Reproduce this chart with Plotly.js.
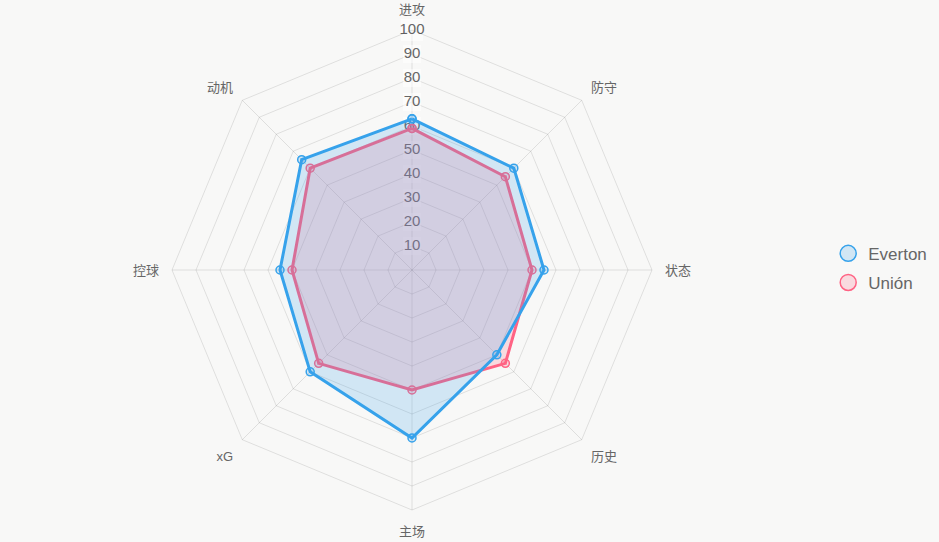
<!DOCTYPE html>
<html>
<head>
<meta charset="utf-8">
<script src="https://cdn.plot.ly/plotly-3.0.1.min.js"></script>
<style>
  html, body { margin: 0; padding: 0; background: rgb(248,248,247); }
  #chart { width: 939px; height: 542px; }
</style>
</head>
<body>
<div id="chart"></div>
<script>
// Radar comparison of two teams across eight attributes (0-100 scale)
const categories = ['进攻', '防守', '状态', '历史', '主场', 'xG', '控球', '动机'];
const evertonValues = [63, 60, 55, 50, 70, 60, 55, 65];
const unionValues = [59, 55, 50, 55, 50, 55, 50, 60];
const radialTicks = [10, 20, 30, 40, 50, 60, 70, 80, 90, 100];
const seriesNames = ['Everton', 'Unión'];

const BLUE = 'rgb(54,162,235)';
const BLUE_FILL = 'rgba(54,162,235,0.2)';
const PINK = 'rgb(255,99,132)';
const PINK_FILL = 'rgba(255,99,132,0.2)';
const GRID = 'rgba(0,0,0,0.1)';
const TEXT = '#666';
const BG = 'rgb(248,248,247)';

// close the polygon by repeating the first vertex
const closed = arr => arr.concat([arr[0]]);

function seriesTrace(name, values, line, fill) {
  return {
    type: 'scatterpolar',
    name: name,
    r: closed(values),
    theta: closed(categories),
    mode: 'lines+markers',
    fill: 'toself',
    fillcolor: fill,
    line: { color: line, width: 3 },
    marker: { size: 8, color: fill, line: { color: line, width: 1.5 } },
    showlegend: false,
    hoverinfo: 'skip'
  };
}

function legendEntry(name, line, fill) {
  return {
    type: 'scatterpolar',
    name: name,
    legendgroup: name,
    r: [null],
    theta: [null],
    mode: 'markers',
    marker: { size: 16, color: fill, line: { color: line, width: 1.5 } },
    showlegend: true,
    hoverinfo: 'skip'
  };
}

// radial scale labels sit on the top spoke with a light backing box
const tickLabels = {
  type: 'scatterpolar',
  r: radialTicks,
  theta: radialTicks.map(() => categories[0]),
  mode: 'markers+text',
  text: radialTicks.map(String),
  textposition: 'middle center',
  textfont: { family: 'Liberation Sans, Arial, sans-serif', size: 15, color: TEXT },
  marker: { symbol: 'square', size: radialTicks.map(v => v === 100 ? 22 : 18), color: 'rgba(255,255,255,0.75)', line: { width: 0 } },
  showlegend: false,
  hoverinfo: 'skip',
  cliponaxis: false
};

const data = [
  tickLabels,
  seriesTrace(seriesNames[1], unionValues, PINK, PINK_FILL),
  seriesTrace(seriesNames[0], evertonValues, BLUE, BLUE_FILL),
  legendEntry(seriesNames[0], BLUE, BLUE_FILL),
  legendEntry(seriesNames[1], PINK, PINK_FILL)
];

const layout = {
  width: 939,
  height: 542,
  margin: { l: 0, r: 0, t: 0, b: 0 },
  paper_bgcolor: BG,
  plot_bgcolor: BG,
  font: { family: 'Liberation Sans, Arial, "Noto Sans CJK SC", sans-serif', color: TEXT },
  polar: {
    domain: { x: [172 / 939, 652 / 939], y: [32 / 542, 512 / 542] },
    bgcolor: 'rgba(0,0,0,0)',
    gridshape: 'linear',
    radialaxis: {
      range: [0, 100],
      dtick: 10,
      showticklabels: false,
      ticks: '',
      showline: false,
      gridcolor: GRID,
      gridwidth: 1
    },
    angularaxis: {
      rotation: 90,
      direction: 'clockwise',
      categoryorder: 'array',
      categoryarray: categories,
      showline: true,
      linecolor: GRID,
      linewidth: 1,
      gridcolor: GRID,
      ticks: 'outside',
      ticklen: 10,
      tickcolor: 'rgba(0,0,0,0)',
      tickfont: { family: 'Liberation Sans, Arial, "Noto Sans CJK SC", sans-serif', size: 13, color: TEXT }
    }
  },
  legend: {
    x: 0.882,
    xanchor: 'left',
    y: 0.505,
    yanchor: 'middle',
    traceorder: 'grouped',
    font: { family: 'Liberation Sans, Arial, sans-serif', size: 17, color: TEXT },
    bgcolor: 'rgba(0,0,0,0)',
    itemwidth: 30,
    tracegroupgap: 4
  }
};

Plotly.newPlot('chart', data, layout, { displayModeBar: false, staticPlot: true });
</script>
</body>
</html>
